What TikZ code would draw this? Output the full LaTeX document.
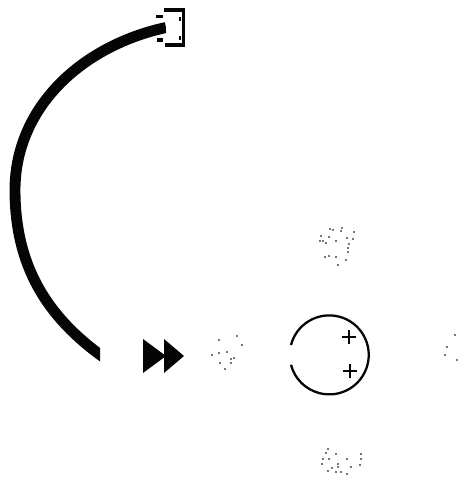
\documentclass[tikz,border=0pt]{standalone}
\usepackage{xcolor}
\definecolor{inkblack}{HTML}{050505}
\definecolor{speckgray}{HTML}{777777}
\tikzset{
    plusmark/.style={draw=inkblack, line width=1.1pt},
    speck/.style={fill=speckgray, draw=none, minimum size=1.4pt, inner sep=0pt, rectangle}
}

\begin{document}
\begin{tikzpicture}[x=0.02cm, y=-0.02cm]

    % Page frame
    \useasboundingbox (0, 0) rectangle (464, 483);

    % Thick curved band
    \coordinate (bandtop) at (166, 27.5);
    \coordinate (bandleft) at (15, 190);
    \coordinate (bandend) at (106, 359);
    \begin{scope}
        \clip (0, 0) -- (166, 0) -- (166, 100) -- (100, 300) -- (100, 483) -- (0, 483) -- cycle;
        \draw[inkblack, line width=6.2pt] (bandtop) .. controls (81, 46) and (15, 108) .. (bandleft)
            .. controls (15, 265) and (46, 317) .. (bandend);
    \end{scope}

    % Bracket at the band end
    \draw[inkblack, line width=1.8pt] (164, 10) -- (183.5, 10) -- (183.5, 45) -- (165, 45);
    \fill[inkblack] (156, 15.5) rectangle (163, 18.5);
    \fill[inkblack] (157, 38) rectangle (163, 42);
    \fill[inkblack] (179, 17) rectangle (181, 21);
    \fill[inkblack] (179, 36) rectangle (181, 40);

    % Double arrow head
    \fill[inkblack] (143, 339) -- (166, 356) -- (143, 373) -- cycle;
    \fill[inkblack] (164, 339) -- (184, 356) -- (164, 373) -- cycle;

    % Open circle with two marks
    \draw[inkblack, line width=1.3pt] (291, 345) arc[start angle=194.5, end angle=525.5, radius=39.5];
    \draw[plusmark] (342, 337) -- (356, 337) (349, 330) -- (349, 344);
    \draw[plusmark] (343, 371) -- (357, 371) (350, 364) -- (350, 378);

    % Scan specks
    \foreach \px/\py in {237/336, 242/345, 219/340, 212/355, 219/353, 227/352, 234/358, 231/359, 220/363, 231/363, 225/369}
        \node[speck] at (\px, \py) {};
    \foreach \px/\py in {330/229, 333/230, 342/228, 341/231, 321/236, 329/237, 347/238, 354/232, 320/241, 323/241, 326/243, 336/241, 353/239, 349/244, 348/248, 348/252, 325/257, 329/256, 336/257, 346/260, 338/265}
        \node[speck] at (\px, \py) {};
    \foreach \px/\py in {328/449, 326/453, 336/454, 323/459, 329/459, 322/464, 338/464, 338/467, 347/459, 361/454, 361/459, 360/465, 351/467, 328/471, 341/472, 347/474, 332/468, 336/472}
        \node[speck] at (\px, \py) {};
    \foreach \px/\py in {455/335, 447/347, 445/355, 457/360}
        \node[speck] at (\px, \py) {};

\end{tikzpicture}
\end{document}
